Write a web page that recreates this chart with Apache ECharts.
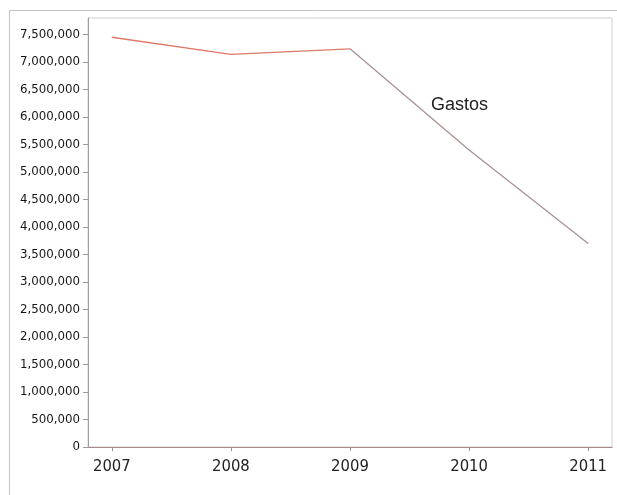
<!DOCTYPE html>
<html>
<head>
<meta charset="utf-8">
<script src="https://cdn.jsdelivr.net/npm/echarts@6/dist/echarts.min.js"></script>
<style>html,body{margin:0;padding:0;background:#fff;}#c{width:617px;height:495px;}</style>
</head>
<body>
<div id="c"></div>
<script>
var years = [2007, 2008, 2009, 2010, 2011];
var gastos = [7450000, 7140000, 7240000, 5400000, 3700000];
var yTicks = [0, 500000, 1000000, 1500000, 2000000, 2500000, 3000000, 3500000, 4000000, 4500000, 5000000, 5500000, 6000000, 6500000, 7000000, 7500000];
var seriesName = 'Gastos';

var pts = years.map(function (y, i) { return [y, gastos[i]]; });
var redPart = pts.slice(0, 3);
var grayPart = pts.slice(2);

var chart = echarts.init(document.getElementById('c'), null, {renderer: 'canvas'});
chart.setOption({
  animation: false,
  backgroundColor: '#fff',
  title: {
    text: seriesName, left: 426, top: 91,
    textStyle: {fontFamily: "'Liberation Sans', Arial, sans-serif", fontSize: 18, fontWeight: 'normal', color: '#222'}
  },
  graphic: [{
    type: 'rect', silent: true, z: -1,
    shape: {x: 9.5, y: 10.5, width: 640, height: 520},
    style: {fill: 'none', stroke: '#c4c4c4', lineWidth: 1}
  }],
  grid: {
    left: 88, right: 5, top: 18, bottom: 48,
    show: true, borderColor: '#d0d0d0', borderWidth: 1, backgroundColor: '#fff'
  },
  xAxis: {
    type: 'value', min: 2006.8, max: 2011.2,
    splitLine: {show: false},
    axisLine: {show: true, onZero: false, lineStyle: {color: '#a88888', width: 1}},
    axisTick: {show: true, length: 4, customValues: years, lineStyle: {color: '#999'}},
    axisLabel: {
      customValues: years, margin: 11,
      formatter: function (v) { return String(v); },
      fontFamily: "'Liberation Sans Narrow', 'DejaVu Sans Condensed', 'Liberation Sans', sans-serif",
      fontSize: 16.5, color: '#222'
    }
  },
  yAxis: {
    type: 'value', min: 0, max: 7800000,
    splitLine: {show: false},
    axisLine: {show: true, lineStyle: {color: '#a0a0a0'}},
    axisTick: {show: true, length: 5, customValues: yTicks, lineStyle: {color: '#999'}},
    axisLabel: {
      customValues: yTicks, margin: 8,
      formatter: function (v) { return Number(v).toLocaleString('en-US'); },
      fontFamily: "'DejaVu Sans', Tahoma, sans-serif",
      fontSize: 11.8, color: '#151515'
    }
  },
  series: [
    {
      name: seriesName, type: 'line', data: redPart,
      showSymbol: false, symbol: 'none',
      lineStyle: {color: '#e07868', width: 1.3}
    },
    {
      name: seriesName + ' (2)', type: 'line', data: grayPart,
      showSymbol: false, symbol: 'none',
      lineStyle: {color: '#a89292', width: 1.3}
    }
  ]
});
</script>
</body>
</html>
